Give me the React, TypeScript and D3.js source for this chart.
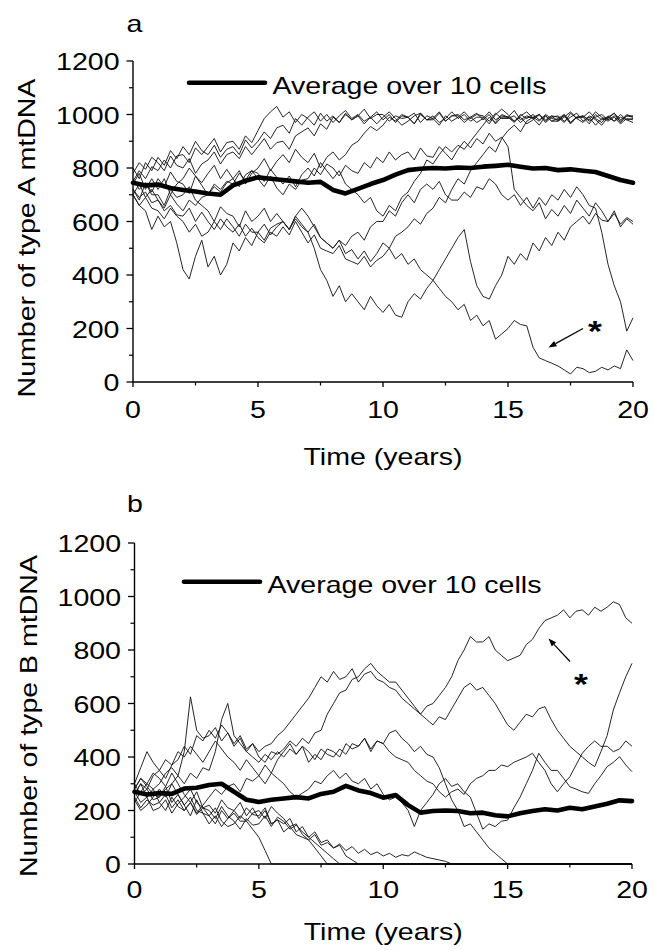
import React from 'react';
import * as d3 from 'd3';

// sample spacing (years) of the per-cell traces and of the average traces
const STEP = 0.25;
const AVG_STEP = 0.5;

// ---------- Panel a : type A mtDNA, 10 single cells (t = 0, 0.25, ... 20) ----------
const A1 = [750,790,760,805, 790,830,800,845, 850,820,875,850, 880,910,860,895, 900,870,920,895,
  940,985,1010,1030, 990,1010,970,1000, 985,960,1005,975, 995,970,1000,980, 995,965,990,1010,
  980,1000,970,995, 990,965,1005,980, 985,1010,975,995, 995,970,990,1005, 980,1000,965,990,
  990,1015,980,995, 985,960,995,975, 975,1000,970,990, 990,965,1000,980, 985,1005,970,995, 990];
const A2 = [800,760,820,790, 840,810,865,835, 880,850,900,865, 850,885,840,870, 880,850,905,875,
  900,935,910,950, 960,930,985,960, 990,1010,975,1000, 970,995,1015,985, 1000,975,990,965,
  990,1010,985,960, 975,995,1005,980, 995,970,985,1010, 985,1000,975,990, 990,965,1000,1020,
  1000,975,990,965, 980,1000,975,995, 990,970,1005,985, 970,995,980,960, 990,975,1000,980, 985];
const A3 = [780,820,795,840, 820,790,845,810, 800,835,780,815, 830,860,815,850, 860,835,880,850,
  880,910,870,895, 900,870,920,935, 950,920,965,945, 990,970,1005,980, 995,1020,985,1000,
  1000,975,995,985, 990,1005,970,995, 985,960,995,975, 990,1010,985,1000, 995,975,1005,985,
  985,995,970,990, 990,975,1000,985, 980,995,965,990, 995,980,1010,990, 975,990,965,985, 980];
const A4 = [720,680,745,710, 760,730,785,750, 740,705,770,745, 780,810,760,795, 760,790,740,780,
  800,835,790,825, 850,820,870,840, 820,855,800,840, 860,830,850,885, 900,930,955,940,
  960,990,975,1000, 990,965,1000,980, 980,1005,975,995, 1000,980,990,970, 985,1010,980,995,
  990,970,1000,985, 1000,980,995,975, 985,1000,970,990, 990,1010,985,970, 995,975,990,980, 970];
const A5 = [700,740,690,720, 680,650,700,665, 640,680,660,690, 700,730,710,745, 760,730,775,790,
  780,750,795,765, 740,770,730,775, 800,770,820,790, 760,790,740,720, 700,670,690,640,
  620,660,640,690, 710,750,780,830, 815,850,880,860, 885,870,900,930, 960,990,970,1000,
  990,975,995,1010, 985,1000,970,990, 995,975,990,1005, 975,990,960,985, 990,1005,980,995, 995];
const A6 = [760,720,745,700, 700,660,720,690, 700,730,680,660, 640,600,655,630, 620,580,640,600,
  620,650,600,630, 600,570,610,580, 560,590,540,520, 500,530,480,495, 460,490,450,480,
  520,500,545,560, 580,610,590,630, 650,690,670,720, 760,740,790,820, 850,880,860,910,
  940,960,935,975, 990,1000,980,995, 975,990,1010,985, 995,975,990,1000, 980,995,975,1000, 990];
const A7 = [740,780,720,760, 720,760,700,740, 760,800,770,735, 700,740,720,750, 740,780,755,790,
  760,730,770,725, 700,740,720,755, 760,800,775,815, 800,770,810,790, 780,820,800,840,
  820,860,830,850, 860,830,875,845, 840,880,855,830, 870,900,875,910, 890,930,900,915,
  880,720,690,660, 640,670,610,645, 620,660,630,680, 650,620,670,640, 600,640,580,610, 590];
const A8 = [700,660,690,650, 640,610,650,620, 600,560,590,545, 560,600,570,610, 580,545,590,560,
  560,530,575,590, 600,570,620,590, 560,500,420,380, 320,360,300,330, 300,270,320,285,
  260,290,250,242, 300,330,310,350, 380,420,460,500, 540,570,450,360, 320,310,360,400,
  470,440,480,455, 520,490,540,510, 560,530,580,600, 620,590,630,605, 600,630,590,615, 600];
const A9 = [700,660,640,570, 620,580,600,520, 420,385,470,530, 430,470,400,440, 520,490,540,510,
  560,590,550,580, 600,570,620,650, 620,580,540,520, 500,530,510,545, 560,530,580,600,
  600,640,620,670, 700,670,720,740, 720,750,700,680, 680,710,690,730, 720,760,740,700,
  680,700,660,690, 650,690,660,700, 680,720,690,730, 700,660,650,560, 440,360,300,190, 240];
const A10 = [720,690,710,670, 680,640,660,625, 620,650,600,635, 600,570,610,580, 560,590,545,575,
  540,520,560,545, 580,550,600,560, 520,550,500,490, 480,510,460,450, 440,470,430,455,
  470,500,460,480, 440,460,420,400, 380,350,320,300, 270,290,230,250, 210,230,160,180,
  200,230,215,210, 130,90,80,70, 60,45,30,55, 50,35,40,55, 45,60,50,120, 80];
// average over the 10 cells (t = 0, 0.5, ... 20)
const AVG_A = [745,735,738,725,718,712,705,700,735,752,765,760,755,750,745,748,718,705,722,740,
  755,775,792,797,800,798,802,800,805,808,812,805,798,800,792,795,790,785,770,755,745];

// ---------- Panel b : type B mtDNA ----------
const B1 = [300,260,280,240, 250,290,230,260, 220,180,240,190, 150,180,140,170, 190,160,160,130,
  100,50,0,0, 0,0,0,0, 0,0,0,0, 0,0,0,0, 0,0,0,0,
  0,0,0,0, 0,0,0,0, 0,0,0,0, 0,0,0,0, 0,0,0,0,
  0,0,0,0, 0,0,0,0, 0,0,0,0, 0,0,0,0, 0,0,0,0, 0];
const B2 = [280,320,300,340, 320,290,340,300, 260,230,270,210, 180,210,160,140, 150,180,160,190,
  200,170,215,190, 170,140,150,110, 90,60,30,0, 0,0,0,0, 0,0,0,0,
  0,0,0,0, 0,0,0,0, 0,0,0,0, 0,0,0,0, 0,0,0,0,
  0,0,0,0, 0,0,0,0, 0,0,0,0, 0,0,0,0, 0,0,0,0, 0];
const B3 = [270,230,250,200, 210,240,190,225, 250,280,230,210, 200,170,215,180, 160,130,170,145,
  150,180,140,175, 160,130,145,120, 100,80,60,40, 20,0,0,0, 0,0,0,0,
  0,0,0,0, 0,0,0,0, 0,0,0,0, 0,0,0,0, 0,0,0,0,
  0,0,0,0, 0,0,0,0, 0,0,0,0, 0,0,0,0, 0,0,0,0, 0];
const B4 = [240,200,220,250, 280,250,300,260, 220,250,200,190, 180,150,200,170, 200,230,180,210,
  170,200,150,165, 150,170,120,140, 100,120,80,90, 60,70,30,15, 0,0,0,0,
  0,0,0,0, 0,0,0,0, 0,0,0,0, 0,0,0,0, 0,0,0,0,
  0,0,0,0, 0,0,0,0, 0,0,0,0, 0,0,0,0, 0,0,0,0, 0];
const B5 = [260,300,250,280, 230,200,250,215, 200,230,185,210, 220,190,240,210, 200,170,210,185,
  180,210,150,165, 120,140,110,100, 90,110,70,80, 60,75,50,65, 40,55,35,45,
  30,40,25,35, 30,45,35,25, 20,15,10,0, 0,0,0,0, 0,0,0,0,
  0,0,0,0, 0,0,0,0, 0,0,0,0, 0,0,0,0, 0,0,0,0, 0];
const B6 = [300,360,420,380, 350,390,370,420, 400,440,410,380, 420,460,430,400, 380,350,390,360,
  330,370,340,390, 420,450,410,440, 380,410,390,430, 420,400,450,430, 440,470,420,460,
  450,490,500,470, 450,420,440,410, 400,360,300,240, 200,140,150,120, 90,60,40,20,
  0,0,0,0, 0,0,0,0, 0,0,0,0, 0,0,0,0, 0,0,0,0, 0];
const B7 = [250,210,240,220, 230,260,210,240, 200,230,190,220, 250,280,260,290, 300,270,320,310,
  330,300,340,320, 300,270,250,265, 280,310,300,330, 350,320,340,310, 300,320,280,300,
  260,240,250,230, 200,140,200,230, 260,300,320,290, 300,270,250,190, 130,150,140,160,
  164,210,250,300, 350,414,380,350, 350,320,289,280, 270,264,300,330, 364,380,401,370, 345];
const B8 = [280,320,290,260, 250,280,300,330, 300,340,320,360, 350,420,540,600, 480,450,420,400,
  380,410,390,420, 400,430,410,440, 420,390,430,410, 400,430,410,450, 440,470,430,460,
  450,420,400,390, 380,350,330,310, 300,270,250,270, 280,260,300,320, 330,350,350,370,
  364,380,390,400, 414,380,350,300, 270,300,326,370, 414,440,460,440, 440,420,430,460, 440];
const B9 = [230,270,300,280, 300,340,360,330, 420,625,500,470, 480,510,460,490, 440,470,420,450,
  400,380,420,410, 430,460,440,470, 450,490,500,560, 600,640,650,690, 700,730,750,720,
  700,680,680,650, 620,590,560,540, 520,550,540,580, 620,660,676,650, 660,630,600,560,
  520,500,530,560, 550,580,588,540, 500,470,440,420, 400,380,364,420, 480,576,640,700, 750];
const B10 = [260,300,280,330, 350,320,370,390, 440,410,480,460, 500,470,520,490, 450,480,430,450,
  420,440,450,480, 500,530,560,590, 620,660,700,680, 720,690,700,730, 680,710,720,690,
  680,660,650,620, 600,580,560,590, 600,630,660,700, 760,800,850,830, 830,850,800,780,
  760,770,780,820, 840,880,910,920, 930,950,920,945, 950,930,960,945, 960,980,970,920, 900];
const AVG_B = [270,260,265,262,282,285,295,300,270,240,232,240,245,250,245,262,270,292,275,265,
  248,258,220,192,198,200,198,190,192,182,178,190,198,205,200,210,205,215,225,238,235];

const CELLS_A = [A1, A2, A3, A4, A5, A6, A7, A8, A9, A10];
const CELLS_B = [B1, B2, B3, B4, B5, B6, B7, B8, B9, B10];

// axis ticks and labels
const Y_TICKS = [0, 200, 400, 600, 800, 1000, 1200];
const Y_MINOR = [100, 300, 500, 700, 900, 1100];
const X_TICKS = [0, 5, 10, 15, 20];
const X_MINOR = [2.5, 7.5, 12.5, 17.5];
const LEGEND_TEXT = 'Average over 10 cells';
const X_TITLE = 'Time (years)';

const FONT = '"Liberation Sans", Arial, Helvetica, sans-serif';
const SX = 1.19;

function Txt({ x, y, anchor = 'start', rotate = 0, size = 24, weight = 'normal', children }: any) {
  return (
    <text
      transform={`translate(${x},${y})${rotate ? ` rotate(${rotate})` : ''} scale(${SX},1)`}
      textAnchor={anchor}
      fontSize={size}
      fontWeight={weight}
      fontFamily={FONT}
      fill="#000"
    >
      {children}
    </text>
  );
}

function Arrow({ from, to }: any) {
  const [x1, y1] = from;
  const [x2, y2] = to;
  const a = Math.atan2(y2 - y1, x2 - x1);
  const L = 8, W = 3;
  const bx = x2 - L * Math.cos(a), by = y2 - L * Math.sin(a);
  const px = -Math.sin(a) * W, py = Math.cos(a) * W;
  return (
    <g>
      <line x1={x1} y1={y1} x2={bx} y2={by} stroke="#000" strokeWidth={1.2} />
      <path d={`M${x2},${y2}L${bx + px},${by + py}L${bx - px},${by - py}Z`} fill="#000" />
    </g>
  );
}

function Panel({ cells, avg, x0, x1, yTop, yBot, letter, letterPos, yTitle, yTitlePos, xTitleY,
  tickLabelY, legend, star, arrow }: any) {
  const x = d3.scaleLinear().domain([0, 20]).range([x0, x1]);
  const y = d3.scaleLinear().domain([0, 1200]).range([yBot, yTop]);
  const cellLine = d3.line<number>().x((_, i) => x(i * STEP)).y(d => y(d));
  const avgLine = d3.line<number>().x((_, i) => x(i * AVG_STEP)).y(d => y(d));
  return (
    <g>
      {cells.map((c: number[], i: number) => (
        <path key={i} d={cellLine(c) || ''} fill="none" stroke="#1a1a1a" strokeWidth={0.95}
          strokeLinejoin="round" />
      ))}
      <path d={avgLine(avg) || ''} fill="none" stroke="#000" strokeWidth={4.6}
        strokeLinejoin="round" strokeLinecap="round" />

      {/* axes */}
      <line x1={x0} y1={yTop} x2={x0} y2={yBot} stroke="#000" strokeWidth={1.4} />
      <line x1={x0} y1={yBot} x2={x1} y2={yBot} stroke="#000" strokeWidth={1.4} />
      {Y_TICKS.map(t => (
        <g key={'y' + t}>
          <line x1={x0 - 6.5} x2={x0} y1={y(t)} y2={y(t)} stroke="#000" strokeWidth={1.3} />
          <Txt x={x0 - 13.5} y={y(t) + 9} anchor="end">{t}</Txt>
        </g>
      ))}
      {Y_MINOR.map(t => (
        <line key={'ym' + t} x1={x0 - 4} x2={x0} y1={y(t)} y2={y(t)} stroke="#000" strokeWidth={1.2} />
      ))}
      {X_TICKS.map(t => (
        <g key={'x' + t}>
          <line x1={x(t)} x2={x(t)} y1={yBot} y2={yBot + 5} stroke="#000" strokeWidth={1.3} />
          <Txt x={x(t)} y={tickLabelY} anchor="middle">{t}</Txt>
        </g>
      ))}
      {X_MINOR.map(t => (
        <line key={'xm' + t} x1={x(t)} x2={x(t)} y1={yBot} y2={yBot + 3.5} stroke="#000" strokeWidth={1.2} />
      ))}

      <Txt x={(x0 + x1) / 2} y={xTitleY} anchor="middle">{X_TITLE}</Txt>
      <Txt x={yTitlePos[0]} y={yTitlePos[1]} anchor="middle" rotate={-90}>{yTitle}</Txt>
      <Txt x={letterPos[0]} y={letterPos[1]}>{letter}</Txt>

      {/* legend */}
      <line x1={legend.x1} x2={legend.x2} y1={legend.y} y2={legend.y} stroke="#000" strokeWidth={4.6}
        strokeLinecap="round" />
      <Txt x={legend.tx} y={legend.ty}>{LEGEND_TEXT}</Txt>

      {/* annotation */}
      <Arrow from={arrow.from} to={arrow.to} />
      <Txt x={star[0]} y={star[1]} anchor="middle" size={30} weight="bold">*</Txt>
    </g>
  );
}

export default function App() {
  return (
    <svg width={654} height={950} xmlns="http://www.w3.org/2000/svg"
      style={{ position: 'absolute', left: 0, top: 0, display: 'block', background: '#fff' }}>
      <rect width={654} height={950} fill="#fff" />
      <Panel
        cells={CELLS_A} avg={AVG_A}
        x0={133} x1={633} yTop={61} yBot={382}
        letter="a" letterPos={[126.5, 32]}
        yTitle="Number of type A mtDNA" yTitlePos={[35, 238]}
        xTitleY={465} tickLabelY={418}
        legend={{ x1: 189, x2: 265, y: 82.7, tx: 272.5, ty: 94 }}
        star={[595, 341]}
        arrow={{ from: [583, 328.5], to: [548.5, 347.5] }}
      />
      <Panel
        cells={CELLS_B} avg={AVG_B}
        x0={134.5} x1={632} yTop={543} yBot={864}
        letter="b" letterPos={[127, 511.5]}
        yTitle="Number of type B mtDNA" yTitlePos={[37, 716]}
        xTitleY={940} tickLabelY={898}
        legend={{ x1: 184, x2: 260, y: 581.7, tx: 267.5, ty: 593 }}
        star={[581, 694]}
        arrow={{ from: [570, 661.5], to: [548.5, 638.5] }}
      />
    </svg>
  );
}
